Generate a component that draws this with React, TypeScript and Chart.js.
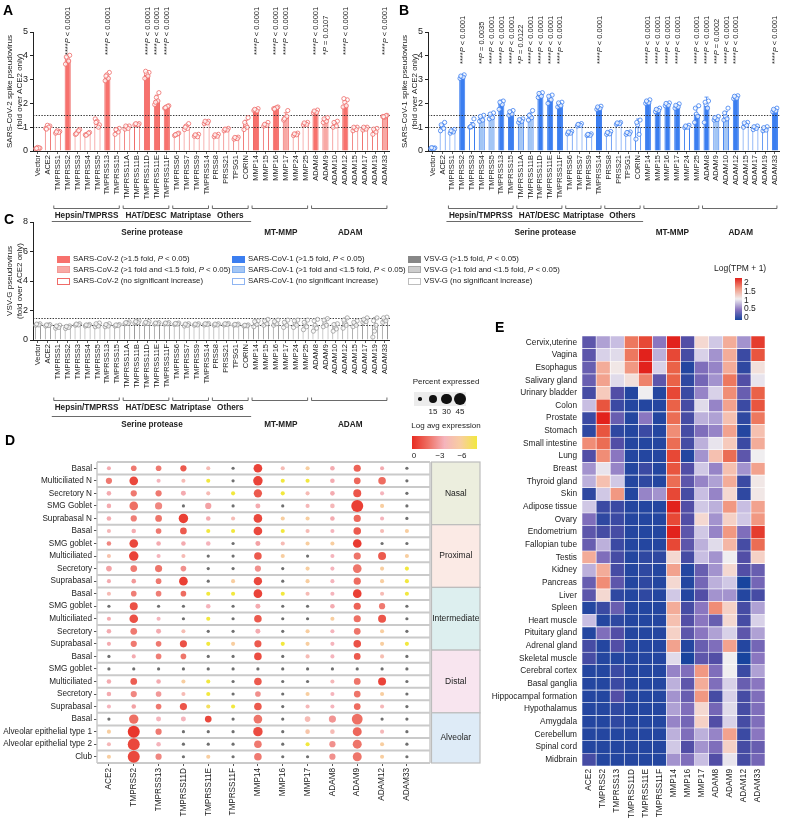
import React, { useEffect, useRef } from 'react';
import { Chart, registerables } from 'chart.js';

Chart.register(...registerables);

const FONT = '"Liberation Sans", Arial, Helvetica, sans-serif';
Chart.defaults.font.family = FONT;

// ---------------- Panels A–C ----------------
const GENES = ['Vector','ACE2','TMPRSS1','TMPRSS2','TMPRSS3','TMPRSS4','TMPRSS5','TMPRSS13','TMPRSS15','TMPRSS11A','TMPRSS11B','TMPRSS11D','TMPRSS11E','TMPRSS11F','TMPRSS6','TMPRSS7','TMPRSS9','TMPRSS14','PRSS8','PRSS21','TPSG1','CORIN','MMP14','MMP15','MMP16','MMP17','MMP24','MMP25','ADAM8','ADAM9','ADAM10','ADAM12','ADAM15','ADAM17','ADAM19','ADAM33'];

const SUBFAMILIES: [string, string, string][] = [
  ['Hepsin/TMPRSS', 'TMPRSS1', 'TMPRSS15'],
  ['HAT/DESC', 'TMPRSS11A', 'TMPRSS11F'],
  ['Matriptase', 'TMPRSS6', 'TMPRSS14'],
  ['Others', 'PRSS8', 'CORIN'],
  ['', 'MMP14', 'MMP25'],
  ['', 'ADAM8', 'ADAM33'],
];
const FAMILIES: [string, string, string, boolean][] = [
  ['Serine protease', 'TMPRSS1', 'CORIN', true],
  ['MT-MMP', 'MMP14', 'MMP25', false],
  ['ADAM', 'ADAM8', 'ADAM33', false],
];
const REF_LINES = [1, 1.5];

const A_VALUES = [0.13,1.0,0.8,3.85,0.8,0.72,1.15,3.1,0.85,1.0,1.12,3.2,2.15,1.85,0.7,1.0,0.65,1.2,0.65,0.9,0.55,1.1,1.72,1.1,1.8,1.45,0.7,1.15,1.65,1.3,1.1,1.95,0.95,0.95,0.85,1.45];
const A_SIG = [0,0,0,2,0,0,0,2,0,0,0,2,2,2,0,0,0,0,0,0,0,0,2,0,2,1,0,0,2,1,0,2,0,0,0,1];
const A_PVALUES: [string, string][] = [
  ['TMPRSS2','****P < 0.0001'],['TMPRSS13','****P < 0.0001'],['TMPRSS11D','****P < 0.0001'],['TMPRSS11E','****P < 0.0001'],['TMPRSS11F','****P < 0.0001'],
  ['MMP14','****P < 0.0001'],['MMP16','****P < 0.0001'],['MMP17','****P < 0.0001'],['ADAM8','****P < 0.0001'],['ADAM9','*P = 0.0107'],['ADAM12','****P < 0.0001'],['ADAM33','****P < 0.0001'],
];
const A_REPS = [
  [0.1,0.12,0.15,0.13,0.11],[0.95,1.05,1.08,1.0,0.92],[0.75,0.82,0.85,0.78,0.8],[3.65,4.02,3.9,3.78,3.95],[0.7,0.9,0.78,0.85,0.72],[0.68,0.78,0.7,0.75,0.66],
  [1.35,1.1,1.25,1.0,1.2],[2.95,3.3,3.2,3.05,3.15],[0.7,0.95,0.88,0.8,0.9],[0.92,1.05,1.0,0.95,1.05],[1.1,1.15,1.12,1.1,1.15],[3.05,3.3,3.25,3.15,3.35],
  [1.95,2.45,2.25,2.1,2.05],[1.8,1.9,1.85,1.88,1.82],[0.65,0.75,0.7,0.72,0.68],[0.9,1.15,1.05,0.95,1.0],[0.62,0.7,0.66,0.6,0.68],[1.15,1.25,1.2,1.18,1.25],
  [0.6,0.7,0.65,0.62,0.68],[0.85,0.95,0.9,0.88,0.92],[0.5,0.58,0.55,0.52,0.57],[0.9,1.4,1.1,1.0,1.2],[1.7,1.78,1.72,1.68,1.75],[1.05,1.2,1.1,1.08,1.12],
  [1.78,1.85,1.8,1.82,1.76],[1.3,1.7,1.4,1.45,1.35],[0.65,0.75,0.7,0.68,0.72],[1.1,1.2,1.15,1.12,1.18],[1.6,1.72,1.65,1.62,1.68],[1.2,1.4,1.3,1.25,1.35],
  [1.0,1.25,1.15,1.05,1.2],[1.85,2.15,2.05,1.9,2.2],[0.85,1.0,0.95,0.9,1.0],[0.88,1.0,0.95,0.92,1.0],[0.7,0.95,0.85,0.8,0.92],[1.45,1.5,1.42,1.48,1.44],
];

const B_VALUES = [0.12,1.0,0.82,3.1,1.05,1.35,1.45,2.0,1.6,1.28,1.45,2.35,2.2,1.95,0.78,1.1,0.68,1.8,0.75,1.15,0.75,1.0,2.05,1.72,1.95,1.88,1.02,1.55,1.9,1.35,1.45,2.25,1.12,0.98,0.92,1.7];
const B_SIG = [0,0,0,2,0,1,1,2,2,1,1,2,2,2,0,0,0,2,0,0,0,0,2,2,2,2,0,2,2,1,1,2,0,0,0,2];
const B_PVALUES: [string, string][] = [
  ['TMPRSS2','****P < 0.0001'],['TMPRSS4','**P = 0.0035'],['TMPRSS5','****P < 0.0001'],['TMPRSS13','****P < 0.0001'],['TMPRSS15','****P < 0.0001'],
  ['TMPRSS11A','*P = 0.0122'],['TMPRSS11B','****P < 0.0001'],['TMPRSS11D','****P < 0.0001'],['TMPRSS11E','****P < 0.0001'],['TMPRSS11F','****P < 0.0001'],
  ['TMPRSS14','****P < 0.0001'],['MMP14','****P < 0.0001'],['MMP15','****P < 0.0001'],['MMP16','****P < 0.0001'],['MMP17','****P < 0.0001'],
  ['MMP25','****P < 0.0001'],['ADAM8','****P < 0.0001'],['ADAM9','***P = 0.0002'],['ADAM10','****P < 0.0001'],['ADAM12','****P < 0.0001'],['ADAM33','****P < 0.0001'],
];
const B_REPS = [
  [0.1,0.13,0.12,0.11,0.14],[0.85,1.2,1.05,0.95,1.1],[0.75,0.9,0.82,0.8,0.85],[3.05,3.2,3.12,3.1,3.15],[1.0,1.35,1.05,1.1,1.02],[1.25,1.5,1.35,1.3,1.45],
  [1.35,1.6,1.45,1.4,1.55],[1.75,2.1,2.0,1.95,2.05],[1.5,1.7,1.6,1.55,1.65],[1.2,1.35,1.28,1.25,1.32],[1.3,1.7,1.45,1.4,1.5],[2.25,2.45,2.35,2.3,2.42],
  [2.0,2.35,2.2,2.15,2.3],[1.85,2.05,1.95,1.9,2.02],[0.72,0.82,0.78,0.75,0.8],[1.05,1.15,1.1,1.08,1.12],[0.65,0.72,0.68,0.66,0.7],[1.75,1.88,1.8,1.78,1.85],
  [0.7,0.82,0.75,0.72,0.78],[1.12,1.2,1.15,1.15,1.18],[0.7,0.8,0.75,0.72,0.78],[0.5,1.3,1.1,0.7,1.2],[2.0,2.15,2.05,2.02,2.1],[1.65,1.8,1.72,1.7,1.75],
  [1.9,2.02,1.95,1.92,2.0],[1.8,1.98,1.88,1.85,1.92],[0.98,1.08,1.02,1.0,1.05],[1.2,1.9,1.55,1.45,1.8],[1.2,2.1,1.95,1.8,2.05],[1.3,1.45,1.35,1.32,1.4],
  [1.3,1.8,1.45,1.35,1.6],[2.2,2.32,2.25,2.22,2.3],[1.0,1.2,1.12,1.08,1.18],[0.9,1.05,0.98,0.95,1.02],[0.85,1.02,0.92,0.88,0.98],[1.65,1.8,1.7,1.68,1.75],
];

const C_VALUES = [1.05,1.0,0.9,0.88,1.05,1.0,1.0,1.0,1.0,1.15,1.2,1.15,1.12,1.12,1.1,1.05,1.05,1.08,1.05,1.08,1.05,0.98,1.15,1.2,1.15,1.1,1.1,1.05,1.0,1.15,0.9,1.2,1.1,1.3,1.0,1.35];
const C_SIG = GENES.map(() => 0);
const C_REPS = [
  [1.0,1.1,1.05,1.02,1.08],[0.95,1.05,1.0,0.98,1.02],[0.8,1.0,0.9,0.85,0.95],[0.78,0.95,0.88,0.85,0.92],[1.0,1.1,1.05,1.02,1.08],[0.95,1.05,1.0,0.98,1.02],
  [0.9,1.15,1.0,0.95,1.1],[0.9,1.1,1.0,0.95,1.05],[0.95,1.05,1.0,0.98,1.02],[1.1,1.22,1.15,1.12,1.18],[1.15,1.3,1.2,1.18,1.25],[1.1,1.25,1.15,1.12,1.2],
  [1.08,1.18,1.12,1.1,1.15],[1.08,1.18,1.12,1.1,1.15],[1.05,1.15,1.1,1.08,1.12],[0.95,1.1,1.05,1.0,1.08],[1.0,1.1,1.05,1.02,1.08],[1.02,1.12,1.08,1.05,1.1],
  [1.0,1.1,1.05,1.02,1.08],[1.02,1.12,1.08,1.05,1.1],[1.0,1.08,1.05,1.02,1.06],[0.95,1.02,0.98,0.96,1.0],[0.9,1.3,1.15,1.05,1.25],[1.0,1.4,1.2,1.1,1.3],
  [1.0,1.35,1.15,1.1,1.25],[0.85,1.35,1.1,1.0,1.2],[0.85,1.35,1.1,1.0,1.3],[0.7,1.35,1.05,0.9,1.2],[0.6,1.4,1.0,0.8,1.3],[0.9,1.45,1.15,1.0,1.35],
  [0.6,1.1,0.9,0.75,1.05],[0.8,1.5,1.2,1.0,1.35],[0.9,1.3,1.1,1.0,1.2],[1.2,1.5,1.3,1.25,1.4],[0.2,1.5,0.6,1.0,1.3],[1.2,1.55,1.35,1.3,1.5],
];
const JITTER = [-0.22, 0.2, -0.05, 0.1, -0.14];

const RED = { fills: ['#ffffff', '#F8A9A5', '#F7716D'], edge: '#EF6B68' };
const BLUE = { fills: ['#ffffff', '#A3C6F5', '#3B7EF0'], edge: '#3B7EF0' };
const GREY = { fills: ['#ffffff', '#CDCDCD', '#878787'], edge: '#9A9A9A' };

type BarPanel = {
  values: number[]; reps: number[][]; sig: number[]; pvals: [string, string][];
  fills: string[]; edge: string; title: string[]; ymax: number; step: number;
  padTop: number; padRight: number; xAxisH: number; pBottom: number;
  bracketY: number; subLabelY: number; famLineY: number; famLabelY: number;
};

function drawPLabel(ctx: CanvasRenderingContext2D, text: string, x: number, yBottom: number, size: number) {
  const k = text.indexOf('P');
  const pre = text.slice(0, k), rest = text.slice(k + 1);
  ctx.save();
  ctx.translate(x, yBottom);
  ctx.rotate(-Math.PI / 2);
  ctx.textBaseline = 'middle';
  ctx.textAlign = 'left';
  ctx.fillStyle = '#222';
  ctx.font = `${size}px ${FONT}`;
  ctx.fillText(pre, 0, 0);
  let w = ctx.measureText(pre).width;
  ctx.font = `italic ${size}px ${FONT}`;
  ctx.fillText('P', w, 0);
  w += ctx.measureText('P').width;
  ctx.font = `${size}px ${FONT}`;
  ctx.fillText(rest, w, 0);
  ctx.restore();
}

function barPanelPlugin(p: BarPanel) {
  return {
    id: 'barPanelDeco',
    afterDatasetDraw(chart: any, args: any) {
      if (args.index !== 0) return;
      const { ctx, chartArea: ca } = chart;
      const xs = chart.scales.x, ys = chart.scales.y;
      ctx.save();
      ctx.strokeStyle = p.edge;
      ctx.lineWidth = 0.8;
      p.reps.forEach((r, i) => {
        const m = r.reduce((a, b) => a + b, 0) / r.length;
        const sd = Math.sqrt(r.reduce((a, b) => a + (b - m) ** 2, 0) / (r.length - 1));
        const v = p.values[i];
        const x = xs.getPixelForValue(i);
        const yt = ys.getPixelForValue(v + sd);
        const yb = ys.getPixelForValue(Math.max(0, v - sd));
        ctx.beginPath();
        ctx.moveTo(x, yb); ctx.lineTo(x, yt);
        ctx.moveTo(x - 2, yt); ctx.lineTo(x + 2, yt);
        ctx.stroke();
      });
      ctx.setLineDash([1.4, 1.4]);
      ctx.strokeStyle = '#222';
      ctx.lineWidth = 0.9;
      REF_LINES.forEach((v) => {
        const y = Math.round(ys.getPixelForValue(v)) + 0.5;
        ctx.beginPath(); ctx.moveTo(ca.left, y); ctx.lineTo(ca.right, y); ctx.stroke();
      });
      ctx.restore();
    },
    afterDraw(chart: any) {
      const { ctx, chartArea: ca } = chart;
      const xs = chart.scales.x;
      const idx = (g: string) => GENES.indexOf(g);
      ctx.save();
      const cy = (ca.top + ca.bottom) / 2;
      ctx.fillStyle = '#222';
      ctx.font = `8px ${FONT}`;
      ctx.textAlign = 'center';
      ctx.textBaseline = 'middle';
      p.title.forEach((t, k) => {
        ctx.save();
        ctx.translate(10 + k * 10, cy);
        ctx.rotate(-Math.PI / 2);
        ctx.fillText(t, 0, 0);
        ctx.restore();
      });
      p.pvals.forEach(([g, t]) => drawPLabel(ctx, t, xs.getPixelForValue(idx(g)) + 0.5, p.pBottom, 7.5));
      ctx.strokeStyle = '#444';
      ctx.lineWidth = 0.8;
      ctx.fillStyle = '#222';
      ctx.font = `bold 8.2px ${FONT}`;
      ctx.textAlign = 'center';
      SUBFAMILIES.forEach(([label, a, b]) => {
        const x1 = xs.getPixelForValue(idx(a)) - 4, x2 = xs.getPixelForValue(idx(b)) + 2;
        const y = p.bracketY + 0.5;
        ctx.beginPath();
        ctx.moveTo(x1, y - 3); ctx.lineTo(x1, y); ctx.lineTo(x2, y); ctx.lineTo(x2, y - 3);
        ctx.stroke();
        if (label) ctx.fillText(label, (x1 + x2) / 2, p.subLabelY);
      });
      FAMILIES.forEach(([label, a, b, line]) => {
        const x1 = xs.getPixelForValue(idx(a)), x2 = xs.getPixelForValue(idx(b));
        if (line) {
          ctx.beginPath();
          ctx.moveTo(x1 - 6, p.famLineY + 0.5); ctx.lineTo(x2 + 5, p.famLineY + 0.5);
          ctx.stroke();
        }
        ctx.fillText(label, (x1 + x2) / 2, p.famLabelY);
      });
      ctx.restore();
    },
  };
}

function makeBarConfig(p: BarPanel): any {
  const points: { x: number; y: number }[] = [];
  p.reps.forEach((r, i) => r.forEach((v, k) => points.push({ x: i + JITTER[k % JITTER.length], y: v })));
  return {
    type: 'bar',
    data: {
      datasets: [
        {
          type: 'bar', data: p.values.map((v, i) => ({ x: i, y: v })), order: 2,
          backgroundColor: p.sig.map((s) => p.fills[s]), borderColor: p.edge, borderWidth: 1,
          barPercentage: 0.62, categoryPercentage: 1,
        },
        {
          type: 'scatter', data: points, order: 1,
          pointRadius: 2.1, pointBorderWidth: 0.8, pointBackgroundColor: 'rgba(255,255,255,0.75)', pointBorderColor: p.edge,
        },
      ],
    },
    options: {
      responsive: false, animation: false, events: [],
      layout: { padding: { top: p.padTop, right: p.padRight, left: 0, bottom: 0 } },
      plugins: { legend: { display: false }, tooltip: { enabled: false } },
      scales: {
        x: {
          type: 'linear', offset: false, min: -0.5, max: GENES.length - 0.5,
          afterBuildTicks: (s: any) => { s.ticks = GENES.map((_, i) => ({ value: i })); },
          grid: { display: true, drawOnChartArea: false, offset: false, tickLength: 3, color: '#333', tickWidth: 0.8 },
          border: { display: true, color: '#222', width: 1 },
          ticks: { callback: (v: any) => GENES[v], autoSkip: false, minRotation: 90, maxRotation: 90, padding: 1, font: { size: 7.5 }, color: '#222' },
          afterFit: (s: any) => { s.height = p.xAxisH; },
        },
        y: {
          min: 0, max: p.ymax,
          ticks: { stepSize: p.step, font: { size: 9 }, color: '#222', padding: 2 },
          grid: { drawOnChartArea: false, tickLength: 3, color: '#222' },
          border: { color: '#222', width: 1 },
          afterFit: (s: any) => { s.width = 33; },
        },
      },
    },
    plugins: [barPanelPlugin(p)],
  };
}

// ---------------- Panel D ----------------
const D_COLS = ['ACE2','TMPRSS2','TMPRSS13','TMPRSS11D','TMPRSS11E','TMPRSS11F','MMP14','MMP16','MMP17','ADAM8','ADAM9','ADAM12','ADAM33'];
const D_ROWS = ['Basal','Multiciliated N','Secretory N','SMG Goblet','Suprabasal N','Basal','SMG goblet','Multiciliated','Secretory','Suprabasal','Basal','SMG goblet','Multiciliated','Secretory','Suprabasal','Basal','SMG goblet','Multiciliated','Secretory','Suprabasal','Basal','Alveolar epithelial type 1','Alveolar epithelial type 2','Club'];
const D_REGIONS: [string, number, string][] = [
  ['Nasal', 5, '#ECEEDE'], ['Proximal', 5, '#FBEAE5'], ['Intermediate', 5, '#DDEFEF'], ['Distal', 5, '#F8E5EF'], ['Alveolar', 4, '#DEEBF7'],
];
const D_PCT = [
  [2,6,6,8,2,0,20,2,2,3,12,2,0],
  [8,20,2,2,2,0,25,2,2,3,10,14,0],
  [3,8,8,4,2,2,18,2,2,3,16,2,0],
  [3,20,12,0,8,0,4,0,2,3,45,2,0],
  [3,8,10,25,3,2,20,2,2,3,12,2,0],
  [2,3,6,10,2,2,20,2,2,2,14,2,2],
  [3,20,3,3,3,0,4,2,2,2,20,0,0],
  [2,25,2,2,0,0,14,2,0,2,12,16,2],
  [6,10,12,6,0,0,8,0,2,2,20,2,2],
  [2,3,6,20,0,2,18,0,2,2,12,2,2],
  [2,6,6,6,2,2,20,2,2,2,20,2,2],
  [0,16,0,0,3,0,4,0,0,3,12,8,0],
  [2,20,2,0,2,0,14,0,0,2,12,16,0],
  [3,10,4,2,0,0,4,0,2,2,10,2,0],
  [2,8,6,12,2,2,12,2,2,2,14,2,2],
  [0,2,6,6,0,0,14,0,2,2,10,2,0],
  [0,0,0,0,0,0,0,0,0,0,0,0,0],
  [3,10,3,2,2,0,14,0,0,2,10,16,0],
  [3,8,6,2,2,0,6,0,2,2,10,2,0],
  [2,3,6,12,2,2,14,0,2,2,10,2,0],
  [0,25,4,4,10,0,20,0,6,12,35,0,0],
  [2,45,8,0,0,0,25,0,3,3,22,2,0],
  [2,45,3,0,0,0,14,0,2,8,22,2,0],
  [2,45,8,0,2,0,14,0,0,8,22,2,0],
];
const D_AVG: (number | null)[][] = [
  [-2.8,-1.7,-1.7,-1.0,-3.4,null,-0.5,-3.4,-4.5,-2.8,-1.2,-2.8,null],
  [-1.7,-0.6,-3.0,-3.4,-6,null,-0.5,-6,-6,-2.8,-1.3,-1.4,null],
  [-2.8,-1.7,-1.7,-2.8,-3.4,-6,-1.0,-6,-3.4,-2.8,-0.9,-3.0,null],
  [-2.8,-1.5,-2.0,null,-2.6,null,-2.8,null,-3.2,-3.2,-0.4,-4.5,null],
  [-2.8,-1.8,-1.6,-0.4,-2.8,-3.4,-0.6,-4.5,-4.5,-2.8,-1.3,-3.0,null],
  [-3.2,-2.8,-1.7,-1.0,-6,-6,-0.6,-6,-3.4,-3.0,-1.0,-3.4,-4.5],
  [-2.0,-0.6,-2.8,-2.8,-3.0,null,-2.6,-3.4,-4.5,-4.5,-0.3,null,null],
  [-3.8,-0.5,-3.0,-3.4,null,null,-1.0,-4.5,null,-3.0,-1.6,-1.0,-4.5],
  [-2.6,-1.7,-1.6,-2.2,null,null,-2.2,null,-4.5,-3.0,-1.6,-4.5,-6],
  [-2.8,-2.4,-1.7,-0.4,null,-4.5,-0.6,null,-4.5,-3.0,-1.4,-4.5,-6],
  [-3.4,-1.8,-1.8,-1.4,-6,-6,-0.5,-6,-3.4,-3.0,-0.4,-3.4,-6],
  [null,-0.8,null,null,-3.0,null,-2.8,null,null,-2.8,-1.2,-1.7,null],
  [-2.8,-0.8,-3.0,null,-6,null,-1.0,null,null,-4.5,-1.5,-0.9,null],
  [-2.8,-1.7,-2.8,-3.5,null,null,-2.8,null,-4.5,-3.0,-1.6,-4.5,null],
  [-2.8,-1.7,-1.7,-0.8,-6,-4.5,-1.0,-6,-4.5,-3.0,-0.8,-4.5,-6],
  [null,-2.8,-1.8,-1.6,null,null,-0.7,null,-3.4,-3.0,-1.0,-3.6,null],
  [null,null,null,null,null,null,null,null,null,null,null,null,null],
  [-2.8,-1.1,-2.8,-4.5,-6,null,-1.0,null,null,-3.2,-1.6,-0.5,null],
  [-2.8,-2.0,-2.4,-3.4,-6,null,-2.2,null,-4.5,-3.0,-1.6,-4.5,null],
  [-3.0,-2.6,-1.7,-0.9,-5.5,-6,-1.0,null,-3.2,-3.0,-1.4,-3.2,null],
  [null,-1.5,-3.0,-3.0,-0.6,null,-1.6,null,-3.4,-2.3,-1.5,null,null],
  [-4.5,-0.2,-1.7,null,null,null,-0.7,null,-4.0,-3.4,-1.3,-3.2,null],
  [-3.2,-0.6,-3.0,null,null,null,-1.7,null,-6,-2.2,-1.6,-4.5,null],
  [-4.5,-0.6,-2.0,null,-4.5,null,-1.7,null,null,-2.2,-1.6,-4.5,null],
];
const PCT_LEGEND = [1, 15, 30, 45];
const AVG_LEGEND = [0, -3, -6];

const AVG_STOPS: [number, number[]][] = [[0,[232,45,35]],[-1.5,[238,112,100]],[-3,[245,180,188]],[-4.5,[248,206,160]],[-6,[242,232,62]]];
const HEAT_STOPS: [number, number[]][] = [[0,[24,68,158]],[0.25,[82,78,166]],[0.5,[138,118,192]],[0.75,[200,190,226]],[1,[240,238,240]],[1.25,[246,202,188]],[1.5,[241,152,130]],[1.75,[234,98,72]],[2,[226,34,28]]];

function interp(stops: [number, number[]][], v: number) {
  const asc = stops[0][0] < stops[stops.length - 1][0];
  const s = asc ? stops : [...stops].reverse();
  if (v <= s[0][0]) return `rgb(${s[0][1].join(',')})`;
  for (let i = 1; i < s.length; i++) {
    if (v <= s[i][0]) {
      const t = (v - s[i - 1][0]) / (s[i][0] - s[i - 1][0]);
      const c = s[i - 1][1].map((a, k) => Math.round(a + (s[i][1][k] - a) * t));
      return `rgb(${c.join(',')})`;
    }
  }
  return `rgb(${s[s.length - 1][1].join(',')})`;
}
const dotRadius = (pct: number) => (pct <= 0 ? 1.6 : 1 + 5 * Math.sqrt(pct / 45));

const dPlugin = {
  id: 'dDeco',
  beforeDatasetsDraw(chart: any) {
    const { ctx, chartArea: ca } = chart;
    const ys = chart.scales.y;
    ctx.save();
    ctx.fillStyle = '#fff';
    ctx.fillRect(ca.left, ca.top, ca.right - ca.left, ca.bottom - ca.top);
    ctx.strokeStyle = '#CACACA';
    ctx.lineWidth = 2;
    for (let i = 0; i <= D_ROWS.length; i++) {
      const y = ys.getPixelForValue(i - 0.5);
      ctx.beginPath(); ctx.moveTo(ca.left, y); ctx.lineTo(ca.right, y); ctx.stroke();
    }
    ctx.lineWidth = 1.5;
    ctx.beginPath(); ctx.moveTo(ca.left, ca.top); ctx.lineTo(ca.left, ca.bottom);
    ctx.moveTo(ca.right, ca.top); ctx.lineTo(ca.right, ca.bottom); ctx.stroke();
    let start = 0;
    ctx.font = `8.5px ${FONT}`;
    ctx.textAlign = 'center';
    ctx.textBaseline = 'middle';
    D_REGIONS.forEach(([label, n, color]) => {
      const y1 = ys.getPixelForValue(start - 0.5), y2 = ys.getPixelForValue(start + n - 0.5);
      const x1 = ca.right + 1.5, x2 = ca.right + 50;
      ctx.fillStyle = color;
      ctx.fillRect(x1, y1, x2 - x1, y2 - y1);
      ctx.strokeStyle = '#BDBDBD';
      ctx.lineWidth = 1.2;
      ctx.strokeRect(x1, y1, x2 - x1, y2 - y1);
      ctx.fillStyle = '#222';
      ctx.fillText(label, (x1 + x2) / 2, (y1 + y2) / 2);
      start += n;
    });
    ctx.restore();
  },
};

function makeDConfig(): any {
  const pts: any[] = [];
  D_PCT.forEach((row, i) => row.forEach((pct, j) => pts.push({ x: j, y: i, pct, avg: D_AVG[i][j] })));
  return {
    type: 'scatter',
    data: {
      datasets: [{
        data: pts,
        pointRadius: (c: any) => dotRadius(c.raw ? c.raw.pct : 0),
        pointBackgroundColor: (c: any) => (!c.raw || c.raw.pct <= 0 || c.raw.avg == null ? '#707070' : interp(AVG_STOPS, c.raw.avg)),
        pointBorderWidth: 0,
      }],
    },
    options: {
      responsive: false, animation: false, events: [],
      layout: { padding: { top: 22, right: 60, left: 0, bottom: 0 } },
      plugins: { legend: { display: false }, tooltip: { enabled: false } },
      scales: {
        x: {
          type: 'linear', min: -0.48, max: 12.93,
          afterBuildTicks: (s: any) => { s.ticks = D_COLS.map((_, j) => ({ value: j })); },
          ticks: { callback: (v: any) => D_COLS[v], autoSkip: false, minRotation: 90, maxRotation: 90, font: { size: 8.2 }, color: '#222', padding: 2 },
          grid: { drawOnChartArea: false, tickLength: 3, color: '#555' },
          border: { display: false },
          afterFit: (s: any) => { s.height = 55; },
        },
        y: {
          type: 'linear', reverse: true, min: -0.5, max: 23.5,
          afterBuildTicks: (s: any) => { s.ticks = D_ROWS.map((_, i) => ({ value: i })); },
          ticks: { callback: (v: any) => D_ROWS[v], autoSkip: false, font: { size: 8.2 }, color: '#222', padding: 2 },
          grid: { drawOnChartArea: false, tickLength: 3, color: '#555' },
          border: { display: false },
          afterFit: (s: any) => { s.width = 97; },
        },
      },
    },
    plugins: [dPlugin],
  };
}

// ---------------- Panel E ----------------
const E_COLS = D_COLS;
const E_ROWS = ['Cervix,uterine','Vagina','Esophagus','Salivary gland','Urinary bladder','Colon','Prostate','Stomach','Small intestine','Lung','Breast','Thyroid gland','Skin','Adipose tissue','Ovary','Endometrium','Fallopian tube','Testis','Kidney','Pancreas','Liver','Spleen','Heart muscle','Pituitary gland','Adrenal gland','Skeletal muscle','Cerebral cortex','Basal ganglia','Hippocampal formation','Hypothalamus','Amygdala','Cerebellum','Spinal cord','Midbrain'];
const E_VALUES = [
  [0.30,0.65,0.75,1.65,1.85,0.50,2.00,0.25,1.15,0.80,1.40,0.60,1.90],
  [0.30,0.85,0.90,1.65,2.00,0.70,1.85,0.20,0.85,0.60,1.40,0.15,1.80],
  [0.35,1.40,1.05,1.50,2.00,0.85,1.75,0.05,0.45,0.55,1.40,0.10,1.10],
  [0.35,1.45,0.90,1.10,1.60,0.30,1.75,0.10,0.40,0.60,1.65,0.25,0.95],
  [0.20,1.25,0.25,0.05,1.00,0.05,1.85,0.15,0.55,0.85,1.55,0.35,1.75],
  [0.75,1.80,0.15,0.05,0.05,0.05,1.75,0.20,0.90,0.55,1.45,0.15,1.80],
  [0.15,2.00,0.35,0.05,0.50,0.05,1.70,0.20,0.70,0.65,1.30,0.10,1.65],
  [0.10,1.80,0.10,0.05,0.15,0.05,1.55,0.20,0.45,0.55,1.45,0.05,1.30],
  [1.55,1.70,0.25,0.05,0.05,0.05,1.70,0.20,0.70,0.95,1.25,0.15,1.40],
  [0.25,1.55,0.50,0.05,0.05,0.05,1.85,0.05,0.60,1.30,1.70,0.30,1.00],
  [0.60,0.95,0.55,0.05,0.15,0.05,1.80,0.25,0.80,0.55,1.30,0.60,1.45],
  [0.70,1.30,0.80,0.05,0.10,0.05,1.70,0.30,0.55,0.65,1.40,0.15,1.05],
  [0.10,0.80,1.50,0.05,0.55,0.60,1.85,0.20,0.75,0.55,1.15,0.10,1.05],
  [0.80,0.15,0.15,0.05,0.05,0.05,2.00,0.25,0.80,0.70,1.50,0.75,1.45],
  [0.45,0.10,0.15,0.05,0.05,0.05,1.85,0.25,1.15,0.60,1.20,0.80,1.50],
  [0.30,0.20,0.20,0.05,0.05,0.05,2.00,0.30,0.80,0.55,1.50,0.45,1.90],
  [0.35,0.70,0.15,0.05,0.05,0.05,1.85,0.30,0.70,0.90,1.35,0.20,1.70],
  [1.40,0.45,0.20,0.05,0.10,0.10,1.15,0.20,0.75,0.60,1.00,0.25,1.20],
  [0.70,1.40,0.20,0.05,0.10,0.05,1.45,0.05,0.35,0.60,1.15,0.25,0.35],
  [0.35,1.55,0.30,0.05,0.10,0.05,1.15,0.05,0.40,0.70,0.80,0.00,0.40],
  [0.30,1.15,0.10,0.05,0.10,0.05,0.80,0.05,0.25,0.60,0.60,0.05,0.20],
  [0.05,0.15,0.35,0.05,0.05,0.05,1.40,0.20,0.50,1.55,1.20,0.20,0.65],
  [0.75,0.05,0.10,0.05,0.05,0.05,1.30,0.25,0.50,0.35,1.15,0.20,0.85],
  [0.05,0.45,0.25,0.05,0.05,0.05,1.20,0.30,0.50,0.65,0.85,0.30,0.65],
  [0.20,0.05,0.25,0.05,0.05,0.05,1.45,0.05,0.35,0.45,1.45,0.05,0.40],
  [0.20,0.05,0.05,0.05,0.05,0.05,0.90,0.00,0.30,0.25,1.00,0.00,0.50],
  [0.05,0.05,0.15,0.05,0.05,0.05,0.55,0.45,1.50,0.45,1.00,0.15,0.65],
  [0.05,0.05,0.15,0.05,0.05,0.05,0.70,0.30,1.40,0.45,0.85,0.35,0.50],
  [0.05,0.05,0.25,0.05,0.05,0.05,0.60,0.35,1.50,0.20,0.85,0.20,0.45],
  [0.05,0.05,0.10,0.05,0.05,0.05,0.65,0.45,1.15,0.40,0.90,0.20,0.45],
  [0.05,0.05,0.10,0.05,0.05,0.05,0.55,0.40,1.20,0.25,0.85,0.20,0.45],
  [0.05,0.05,0.05,0.05,0.05,0.05,0.70,0.45,0.70,0.55,1.45,0.15,0.50],
  [0.05,0.05,0.05,0.05,0.05,0.05,0.80,0.25,0.60,0.45,1.20,0.20,0.35],
  [0.20,0.05,0.05,0.05,0.05,0.05,0.60,0.45,0.75,0.25,0.95,0.20,0.40],
];
const HEAT_LEGEND = ['2', '1.5', '1', '0.5', '0'];

function makeEConfig(): any {
  return {
    type: 'bar',
    data: {
      labels: E_ROWS,
      datasets: E_COLS.map((c, j) => ({
        label: c,
        data: E_ROWS.map(() => 1),
        backgroundColor: E_VALUES.map((r) => interp(HEAT_STOPS, r[j])),
        borderColor: '#ffffff', borderWidth: 0.6, borderSkipped: false,
        barPercentage: 1, categoryPercentage: 1,
      })),
    },
    options: {
      indexAxis: 'y',
      responsive: false, animation: false, events: [],
      layout: { padding: { top: 11, right: 20, left: 0, bottom: 0 } },
      plugins: { legend: { display: false }, tooltip: { enabled: false } },
      scales: {
        x: {
          type: 'linear', stacked: true, min: 0, max: E_COLS.length,
          afterBuildTicks: (s: any) => { s.ticks = E_COLS.map((_, j) => ({ value: j + 0.5 })); },
          ticks: { callback: (v: any) => E_COLS[Math.floor(v)], autoSkip: false, minRotation: 90, maxRotation: 90, font: { size: 8.3 }, color: '#222', padding: 3 },
          grid: { display: false, drawTicks: false },
          border: { display: false },
          afterFit: (s: any) => { s.height = 52; },
        },
        y: {
          type: 'category', stacked: true, offset: true,
          ticks: { autoSkip: false, font: { size: 8.3 }, color: '#222', padding: 5 },
          grid: { display: false, drawTicks: false },
          border: { display: false },
          afterFit: (s: any) => { s.width = 102; },
        },
      },
    },
  };
}

// ---------------- components ----------------
function ChartCanvas({ make, left, top, width, height }: { make: () => any; left: number; top: number; width: number; height: number }) {
  const ref = useRef<HTMLCanvasElement>(null);
  useEffect(() => {
    const chart = new Chart(ref.current as HTMLCanvasElement, make());
    return () => chart.destroy();
  }, []);
  return <canvas ref={ref} width={width} height={height} style={{ position: 'absolute', left, top, width, height }} />;
}

function Txt({ x, y, children, size = 8, align = 'left', bold = false }: any) {
  const tx = align === 'center' ? '-50%' : align === 'right' ? '-100%' : '0';
  return (
    <div style={{ position: 'absolute', left: x, top: y, transform: `translate(${tx}, -50%)`, fontSize: size, fontWeight: bold ? 'bold' : 'normal', whiteSpace: 'nowrap', color: '#222', lineHeight: 1 }}>
      {children}
    </div>
  );
}

function withItalicP(text: string) {
  return text.split(/(\bP\b)/).map((s, i) => (s === 'P' ? <i key={i}>P</i> : <span key={i}>{s}</span>));
}

const LEGEND_C: { text: string; fill: string; edge: string }[][] = [
  [
    { text: 'SARS-CoV-2 (>1.5 fold, P < 0.05)', fill: RED.fills[2], edge: RED.fills[2] },
    { text: 'SARS-CoV-2 (>1 fold and <1.5 fold, P < 0.05)', fill: RED.fills[1], edge: '#F39A96' },
    { text: 'SARS-CoV-2 (no significant increase)', fill: '#fff', edge: RED.edge },
  ],
  [
    { text: 'SARS-CoV-1 (>1.5 fold, P < 0.05)', fill: BLUE.fills[2], edge: BLUE.fills[2] },
    { text: 'SARS-CoV-1 (>1 fold and <1.5 fold, P < 0.05)', fill: BLUE.fills[1], edge: '#7FAEF0' },
    { text: 'SARS-CoV-1 (no significant increase)', fill: '#fff', edge: '#8FB5F2' },
  ],
  [
    { text: 'VSV-G (>1.5 fold, P < 0.05)', fill: GREY.fills[2], edge: GREY.fills[2] },
    { text: 'VSV-G (>1 fold and <1.5 fold, P < 0.05)', fill: GREY.fills[1], edge: '#A8A8A8' },
    { text: 'VSV-G (no significant increase)', fill: '#fff', edge: '#BDBDBD' },
  ],
];
const LEGEND_COL_X = [57, 232, 408];
const LEGEND_ROW_Y = [259, 269.5, 281];

export default function App() {
  const A: BarPanel = {
    values: A_VALUES, reps: A_REPS, sig: A_SIG, pvals: A_PVALUES, ...RED,
    title: ['SARS-CoV-2 spike pseudovirus', '(fold over ACE2 only)'], ymax: 5, step: 1,
    padTop: 32, padRight: 4, xAxisH: 89, pBottom: 55,
    bracketY: 208, subLabelY: 216, famLineY: 221, famLabelY: 233,
  };
  const B: BarPanel = {
    values: B_VALUES, reps: B_REPS, sig: B_SIG, pvals: B_PVALUES, ...BLUE,
    title: ['SARS-CoV-1 spike pseudovirus', '(fold over ACE2 only)'], ymax: 5, step: 1,
    padTop: 32, padRight: 2, xAxisH: 89, pBottom: 64,
    bracketY: 208, subLabelY: 216, famLineY: 221, famLabelY: 233,
  };
  const C: BarPanel = {
    values: C_VALUES, reps: C_REPS, sig: C_SIG, pvals: [], ...GREY,
    title: ['VSV-G pseudovirus', '(fold over ACE2 only)'], ymax: 8, step: 2,
    padTop: 22, padRight: 4, xAxisH: 100, pBottom: 0,
    bracketY: 200, subLabelY: 208, famLineY: 216, famLabelY: 225,
  };
  const pctX = [420, 433, 446.5, 460];
  const avgX = [414, 440, 462];
  return (
    <div style={{ position: 'absolute', left: 0, top: 0, width: 785, height: 818, background: '#fff', fontFamily: FONT, overflow: 'hidden' }}>
      <ChartCanvas make={() => makeBarConfig(C)} left={0} top={200} width={395} height={240} />
      <ChartCanvas make={() => makeBarConfig(A)} left={0} top={0} width={395} height={240} />
      <ChartCanvas make={() => makeBarConfig(B)} left={395} top={0} width={390} height={240} />
      <ChartCanvas make={makeDConfig} left={0} top={440} width={490} height={378} />
      <ChartCanvas make={makeEConfig} left={480} top={325} width={305} height={493} />

      <div style={{ position: 'absolute', left: 3, top: 3, fontSize: 14, fontWeight: 'bold', lineHeight: '14px' }}>A</div>
      <div style={{ position: 'absolute', left: 399, top: 3, fontSize: 14, fontWeight: 'bold', lineHeight: '14px' }}>B</div>
      <div style={{ position: 'absolute', left: 4, top: 212, fontSize: 14, fontWeight: 'bold', lineHeight: '14px' }}>C</div>
      <div style={{ position: 'absolute', left: 5, top: 433, fontSize: 14, fontWeight: 'bold', lineHeight: '14px' }}>D</div>
      <div style={{ position: 'absolute', left: 495, top: 320, fontSize: 14, fontWeight: 'bold', lineHeight: '14px' }}>E</div>

      {LEGEND_C.map((col, ci) => col.map((it, ri) => (
        <React.Fragment key={`${ci}-${ri}`}>
          <div style={{ position: 'absolute', left: LEGEND_COL_X[ci], top: LEGEND_ROW_Y[ri] - 3.5, width: 13, height: 7, boxSizing: 'border-box', background: it.fill, border: `1px solid ${it.edge}` }} />
          <Txt x={LEGEND_COL_X[ci] + 16} y={LEGEND_ROW_Y[ri]} size={7.8}>{withItalicP(it.text)}</Txt>
        </React.Fragment>
      )))}

      <Txt x={446} y={382} size={8} align="center">Percent expressed</Txt>
      <div style={{ position: 'absolute', left: 414, top: 392, width: 52, height: 14, background: '#ECECEC' }} />
      {PCT_LEGEND.map((p, i) => {
        const r = dotRadius(p);
        return <div key={p} style={{ position: 'absolute', left: pctX[i] - r, top: 399 - r, width: 2 * r, height: 2 * r, borderRadius: '50%', background: '#111' }} />;
      })}
      {PCT_LEGEND.slice(1).map((p, i) => <Txt key={p} x={pctX[i + 1]} y={412} size={8} align="center">{p}</Txt>)}
      <Txt x={446} y={426} size={8} align="center">Log avg expression</Txt>
      <div style={{ position: 'absolute', left: 412, top: 436, width: 65, height: 13, background: `linear-gradient(to right, ${interp(AVG_STOPS, 0)}, ${interp(AVG_STOPS, -1.5)} 25%, ${interp(AVG_STOPS, -3)} 50%, ${interp(AVG_STOPS, -4.5)} 75%, ${interp(AVG_STOPS, -6)})` }} />
      {AVG_LEGEND.map((v, i) => <Txt key={v} x={avgX[i]} y={456} size={8} align="center">{v === 0 ? '0' : `\u2212${-v}`}</Txt>)}

      <Txt x={714} y={268} size={8.5}>Log(TPM + 1)</Txt>
      <div style={{ position: 'absolute', left: 735, top: 278, width: 7, height: 42, background: `linear-gradient(to bottom, ${interp(HEAT_STOPS, 2)}, ${interp(HEAT_STOPS, 1.5)} 25%, ${interp(HEAT_STOPS, 1)} 50%, ${interp(HEAT_STOPS, 0.5)} 75%, ${interp(HEAT_STOPS, 0)})` }} />
      {HEAT_LEGEND.map((t, i) => <Txt key={t} x={744} y={282 + i * 8.75} size={8.5}>{t}</Txt>)}
    </div>
  );
}
